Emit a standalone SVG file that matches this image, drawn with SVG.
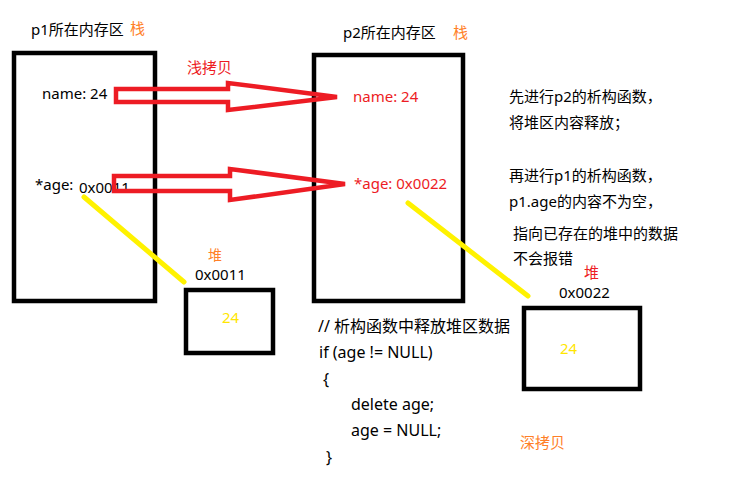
<svg xmlns="http://www.w3.org/2000/svg" width="751" height="494" viewBox="0 0 751 494">
<style>
text{font-family:"Noto Sans","Noto Sans CJK SC",sans-serif;font-size:15px;fill:#000}
.red{fill:#ed1c24}
.org{fill:#ff7f27}
.yel{fill:#ffe600}
.code{font-size:16px}
.box{fill:none;stroke:#000;stroke-width:4.5}
.arr{fill:none;stroke:#ed1c24;stroke-width:4.5;stroke-linejoin:miter}
.ptr{stroke:#fff200;stroke-width:5;stroke-linecap:round}
</style>
<rect width="751" height="494" fill="#fff"/>
<g id="p1">
<rect class="box" x="14" y="53" width="141" height="248"/>
<text x="31" y="35">p1所在内存区</text>
<text class="org" x="130" y="34">栈</text>
<text x="42" y="99">name: 24</text>
<text x="35" y="190">*age:</text>
<text x="79" y="193">0x0011</text>
</g>
<g id="p2">
<rect class="box" x="314" y="55" width="149" height="246"/>
<text x="343" y="38">p2所在内存区</text>
<text class="org" x="453" y="38">栈</text>
<text class="red" x="353" y="102">name: 24</text>
<text class="red" x="354" y="189">*age: 0x0022</text>
</g>
<g id="heap1">
<rect class="box" x="186" y="290" width="87" height="63"/>
<text class="org" x="208" y="260" style="font-size:14px">堆</text>
<text x="195" y="280">0x0011</text>
<text class="yel" x="222" y="323">24</text>
</g>
<g id="heap2">
<rect class="box" x="524" y="308" width="116" height="81"/>
<text class="red" x="584" y="278">堆</text>
<text x="559" y="298">0x0022</text>
<text class="yel" x="560" y="354">24</text>
</g>
<g id="connectors">
<polygon class="arr" points="116,89 228,89 228,83 337,97 228,110 228,102 116,102"/>
<polygon class="arr" points="114,176 230,176 230,169 345,184 230,200 230,191 114,191"/>
<line class="ptr" x1="84" y1="197" x2="184" y2="282"/>
<line class="ptr" x1="408" y1="203" x2="528" y2="296"/>
</g>
<g id="labels">
<text class="red" x="187" y="73">浅拷贝</text>
<text class="org" x="520" y="448">深拷贝</text>
<text x="509" y="102">先进行p2的析构函数，</text>
<text x="509" y="128">将堆区内容释放；</text>
<text x="509" y="181">再进行p1的析构函数，</text>
<text x="509" y="207">p1.age的内容不为空，</text>
<text x="513" y="239">指向已存在的堆中的数据</text>
<text x="513" y="264">不会报错</text>
</g>
<g id="code">
<text class="code" x="318" y="332">// 析构函数中释放堆区数据</text>
<text class="code" x="319" y="358">if (age != NULL)</text>
<text class="code" x="323" y="385">{</text>
<text class="code" x="351" y="410">delete age;</text>
<text class="code" x="351" y="436">age = NULL;</text>
<text class="code" x="326" y="463">}</text>
</g>
</svg>
